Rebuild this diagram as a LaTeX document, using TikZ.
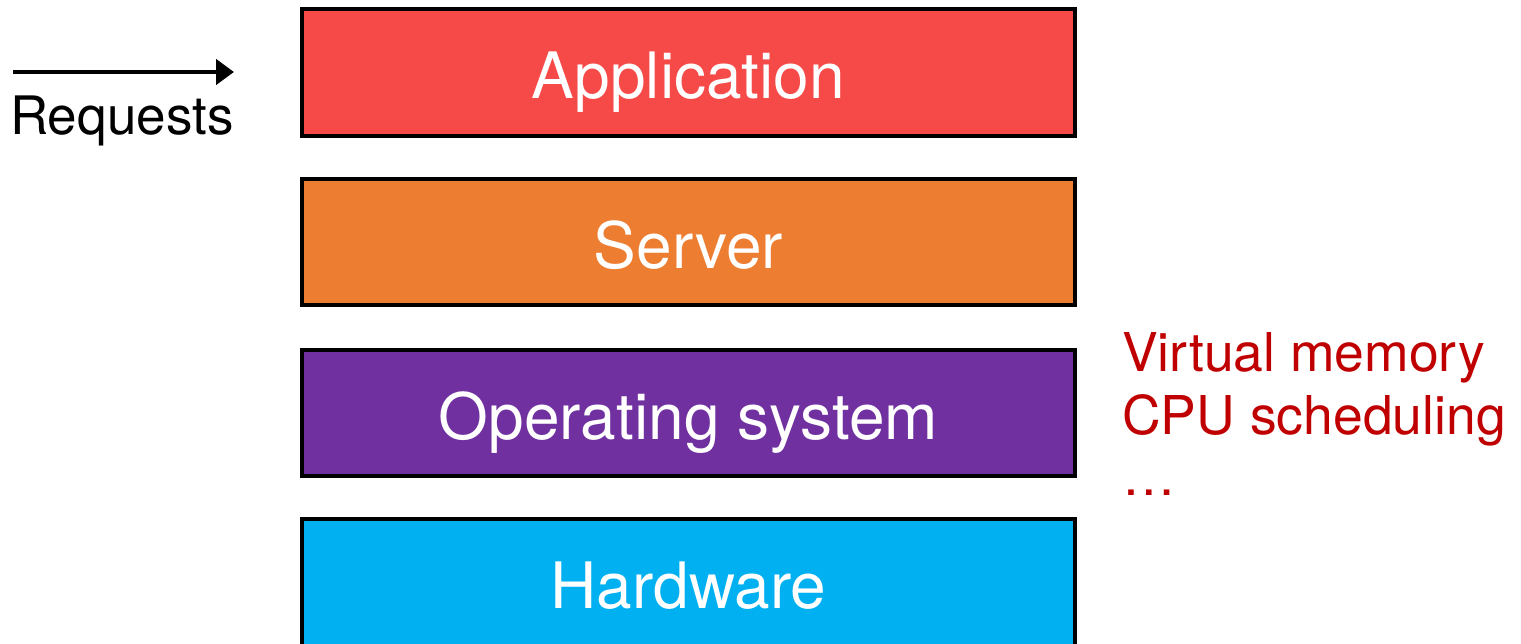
\documentclass[tikz,border=0pt]{standalone}
\usepackage{fontspec}
\setmainfont{TeX Gyre Heros}
\usetikzlibrary{arrows.meta}
\definecolor{appred}{HTML}{F64A48}
\definecolor{srvorange}{HTML}{ED7D31}
\definecolor{ospurple}{HTML}{7030A0}
\definecolor{hwblue}{HTML}{00B0F0}
\definecolor{notered}{HTML}{C00000}
\tikzset{
  layerbox/.style={draw=black, line width=4pt},
  layerlabel/.style={text=white, anchor=base, inner sep=0pt, font=\fontsize{64}{76}\selectfont},
  notelabel/.style={text=notered, anchor=base west, inner sep=0pt, font=\fontsize{53.5}{64}\selectfont},
  reqlabel/.style={text=black, anchor=base west, inner sep=0pt, font=\fontsize{53}{64}\selectfont},
  reqarrow/.style={line width=4.5pt, -{Triangle[length=18pt,width=25pt]}}
}
\begin{document}
\begin{tikzpicture}[x=1pt,y=-1pt]
\useasboundingbox (0,0) rectangle (1521,644);
\clip (0,0) rectangle (1521,644);
% layers
\draw[layerbox, fill=appred] (302,9) rectangle (1075,136);
\node[layerlabel] (app) at (688.5,99) {Application};
\draw[layerbox, fill=srvorange] (302,179) rectangle (1075,305);
\node[layerlabel] (srv) at (688.5,269) {Server};
\draw[layerbox, fill=ospurple] (302,350) rectangle (1075,476);
\node[layerlabel] (os) at (688.5,439) {Operating system};
\draw[layerbox, fill=hwblue] (302,519) rectangle (1075,660);
\node[layerlabel] (hw) at (688.5,608) {Hardware};
% requests
\coordinate (reqstart) at (13,72);
\coordinate (reqend) at (234,72);
\draw[reqarrow] (reqstart) -- (reqend);
\node[reqlabel] (req) at (10,135) {Requests};
% notes
\node[notelabel] (vm) at (1122,371) {Virtual memory};
\node[notelabel] (cpu) at (1122,434) {CPU scheduling};
\node[notelabel] (dots) at (1122,495) {…};
\end{tikzpicture}
\end{document}
